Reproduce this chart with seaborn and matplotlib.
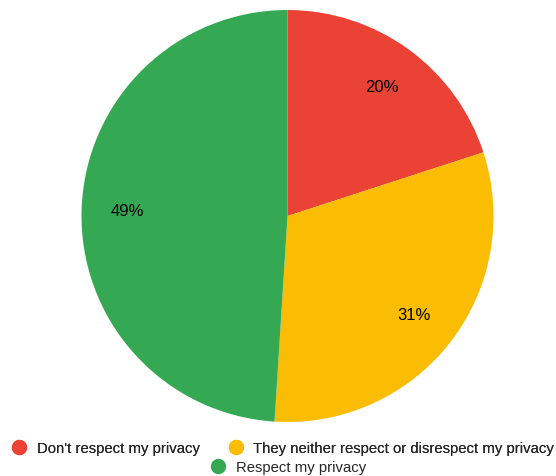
import seaborn as sns
import matplotlib.pyplot as plt
from matplotlib.lines import Line2D

# データ
labels = ["Don't respect my privacy",
          "They neither respect or disrespect my privacy",
          "Respect my privacy"]
values = [20, 31, 49]
colors = sns.color_palette(["#EA4335", "#FBBC04", "#34A853"])

sns.set_style("white")
plt.rcParams['font.family'] = ['Liberation Sans', 'DejaVu Sans']

W, H = 556, 477
fig = plt.figure(figsize=(W / 100, H / 100), dpi=100)
cx, cy, r = 287.5, 217, 206
ax = fig.add_axes([(cx - r) / W, (H - cy - r) / H, 2 * r / W, 2 * r / H])

ax.pie(values, colors=colors, startangle=90, counterclock=False,
       autopct='%d%%', pctdistance=0.78, radius=1,
       textprops={'fontsize': 12, 'color': 'black'},
       wedgeprops={'linewidth': 0})
ax.set_xlim(-1, 1)
ax.set_ylim(-1, 1)
ax.set_aspect('equal')
ax.axis('off')

handles = [Line2D([], [], marker='o', linestyle='', markersize=10,
                  markerfacecolor=c, markeredgecolor=c) for c in colors]

# 凡例（1行目：2項目、2行目：1項目）
leg_kw = dict(frameon=False, fontsize=10.7, handletextpad=0.7,
              handlelength=1.0, borderpad=0, borderaxespad=0)
leg1 = fig.legend(handles[:2], labels[:2], ncol=2, loc='center',
                  bbox_to_anchor=(283 / W, 1 - 449 / H),
                  columnspacing=1.9, **leg_kw)
fig.add_artist(leg1)
fig.legend(handles[2:], labels[2:], loc='center',
           bbox_to_anchor=(288 / W, 1 - 468 / H), **leg_kw)

fig.savefig("out.png", dpi=100)
